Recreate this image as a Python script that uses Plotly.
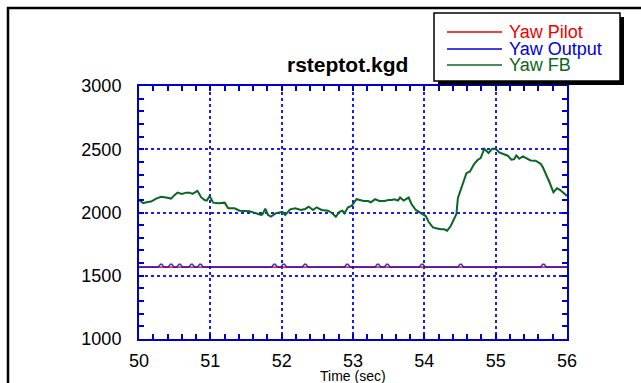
import plotly.graph_objects as go

# ---------------- data ----------------
time_fb = [50.00, 50.06, 50.12, 50.17, 50.24, 50.31, 50.38, 50.45, 50.50, 50.54,
           50.60, 50.66, 50.71, 50.75, 50.82, 50.87, 50.92, 50.95, 50.99, 51.04,
           51.11, 51.17, 51.20, 51.25, 51.34, 51.41, 51.55, 51.64, 51.71, 51.73,
           51.77, 51.81, 51.85, 51.92, 51.98, 52.01, 52.05, 52.12, 52.19, 52.27,
           52.33, 52.38, 52.44, 52.49, 52.56, 52.65, 52.70, 52.76, 52.81, 52.85,
           52.88, 52.93, 52.98, 53.05, 53.15, 53.21, 53.25, 53.31, 53.37, 53.44,
           53.50, 53.54, 53.58, 53.63, 53.66, 53.71, 53.78, 53.82, 53.88, 53.94,
           54.02, 54.06, 54.12, 54.18, 54.23, 54.28, 54.32, 54.37, 54.41, 54.45,
           54.47, 54.51, 54.55, 54.59, 54.64, 54.70, 54.75, 54.79, 54.84, 54.90,
           54.95, 55.00, 55.05, 55.11, 55.17, 55.22, 55.26, 55.29, 55.33, 55.38,
           55.44, 55.49, 55.56, 55.63, 55.66, 55.70, 55.75, 55.81, 55.86, 55.90,
           55.95, 56.00]
yaw_fb = [2099, 2073, 2083, 2087, 2110, 2125, 2118, 2110, 2139, 2157,
          2147, 2157, 2157, 2147, 2171, 2121, 2099, 2094, 2131, 2078,
          2073, 2078, 2078, 2033, 2033, 2014, 2010, 1994, 1980, 1985,
          2030, 1980, 1967, 1994, 1998, 2006, 1980, 2025, 2033, 2020,
          2028, 2046, 2020, 2041, 2020, 2014, 1998, 1967, 2006, 2014,
          1994, 2041, 2052, 2105, 2091, 2091, 2081, 2105, 2091, 2091,
          2099, 2099, 2105, 2094, 2118, 2094, 2118, 2067, 2020, 1998,
          1972, 1927, 1882, 1874, 1867, 1867, 1856, 1893, 1940, 1988,
          2113, 2179, 2245, 2311, 2324, 2385, 2417, 2430, 2504, 2470,
          2504, 2504, 2475, 2462, 2449, 2417, 2422, 2451, 2425, 2443,
          2422, 2411, 2409, 2385, 2359, 2311, 2245, 2160, 2192, 2179,
          2152, 2131]

time_pilot = [50.0, 51.0, 52.0, 53.0, 54.0, 55.0, 56.0]
yaw_pilot = [1568, 1568, 1568, 1568, 1568, 1568, 1568]

time_out = [50.00,
            50.27, 50.29, 50.30, 50.32, 50.33, 50.35,
            50.41, 50.43, 50.44, 50.46, 50.47, 50.49,
            50.53, 50.55, 50.56, 50.58, 50.59, 50.61,
            50.70, 50.72, 50.73, 50.75, 50.76, 50.78,
            50.82, 50.84, 50.85, 50.87, 50.88, 50.90,
            51.86, 51.88, 51.89, 51.91, 51.92, 51.94,
            51.99, 52.01, 52.02, 52.04, 52.05, 52.07,
            52.29, 52.31, 52.32, 52.34, 52.35, 52.37,
            52.88, 52.90, 52.91, 52.93, 52.94, 52.96,
            53.31, 53.33, 53.34, 53.36, 53.37, 53.39,
            53.44, 53.46, 53.47, 53.49, 53.50, 53.52,
            53.93, 53.95, 53.96, 53.98, 53.99, 54.01,
            54.47, 54.49, 54.50, 54.52, 54.53, 54.55,
            55.63, 55.65, 55.66, 55.68, 55.69, 55.71,
            56.00]
yaw_out = [1570,
           1570, 1583, 1590, 1590, 1583, 1570,
           1570, 1583, 1590, 1590, 1583, 1570,
           1570, 1583, 1590, 1590, 1583, 1570,
           1570, 1583, 1590, 1590, 1583, 1570,
           1570, 1583, 1590, 1590, 1583, 1570,
           1570, 1583, 1590, 1590, 1583, 1570,
           1570, 1583, 1590, 1590, 1583, 1570,
           1570, 1583, 1590, 1590, 1583, 1570,
           1570, 1583, 1590, 1590, 1583, 1570,
           1570, 1583, 1590, 1590, 1583, 1570,
           1570, 1583, 1590, 1590, 1583, 1570,
           1570, 1583, 1590, 1590, 1583, 1570,
           1570, 1583, 1590, 1590, 1583, 1570,
           1570, 1583, 1590, 1590, 1583, 1570,
           1570]

series_names = ["Yaw Pilot", "Yaw Output", "Yaw FB"]
series_colors = ["#ee0000", "#0000dd", "#0b6623"]
title_text = "rsteptot.kgd"
xlabel_text = "Time (sec)"

# ---------------- layout helpers ----------------
W, H = 641, 383
L, R, T, B = 139, 567, 86, 339


def px(x):
    return (x - L) / (R - L)


def py(y):
    return (B - y) / (B - T)


FONT = "Liberation Sans, Arial, sans-serif"
AXIS_BLUE = "#0000cc"
GRID_BLUE = "#1a1aff"

fig = go.Figure()
fig.add_trace(go.Scatter(x=time_pilot, y=yaw_pilot, mode="lines",
                         line=dict(color=series_colors[0], width=1.8),
                         opacity=0.8, name=series_names[0], showlegend=False))
fig.add_trace(go.Scatter(x=time_out, y=yaw_out, mode="lines",
                         line=dict(color=series_colors[1], width=1.5),
                         opacity=0.8, name=series_names[1], showlegend=False))
fig.add_trace(go.Scatter(x=time_fb, y=yaw_fb, mode="lines",
                         line=dict(color=series_colors[2], width=2),
                         name=series_names[2], showlegend=False))

axis_common = dict(
    showline=True, linecolor=AXIS_BLUE, linewidth=2, mirror="ticks",
    ticks="inside", ticklen=5, tickwidth=1.5, tickcolor=AXIS_BLUE,
    showgrid=True, gridcolor=GRID_BLUE, gridwidth=1.5, griddash="dot",
    zeroline=False,
    tickfont=dict(family=FONT, size=18, color="black"),
)

fig.update_xaxes(range=[50, 56], tickmode="array",
                 tickvals=[50, 51, 52, 53, 54, 55, 56],
                 ticktext=["50", "51", "52", "53", "54", "55", "56"],
                 minor=dict(dtick=0.2, ticks="inside", ticklen=5, tickwidth=1.5,
                            tickcolor=AXIS_BLUE, showgrid=False),
                 ticklabelstandoff=4,
                 **axis_common)
fig.update_yaxes(range=[1000, 3000], tickmode="array",
                 tickvals=[1000, 1500, 2000, 2500, 3000],
                 ticktext=["1000", "1500", "2000", "2500", "3000"],
                 minor=dict(dtick=100, ticks="inside", ticklen=5, tickwidth=1.5,
                            tickcolor=AXIS_BLUE, showgrid=False),
                 ticklabelstandoff=12,
                 **axis_common)

shapes = []
# outer frame
shapes.append(dict(type="rect", xref="paper", yref="paper",
                   x0=px(8), x1=px(700), y0=py(8), y1=py(460),
                   line=dict(color="black", width=2.5), fillcolor="rgba(0,0,0,0)", layer="above"))
# legend shadow
shapes.append(dict(type="rect", xref="paper", yref="paper",
                   x0=px(438), x1=px(624), y0=py(17), y1=py(85),
                   line=dict(width=0), fillcolor="black", layer="above"))
# legend box
shapes.append(dict(type="rect", xref="paper", yref="paper",
                   x0=px(434), x1=px(620), y0=py(13), y1=py(81),
                   line=dict(color="black", width=1.5), fillcolor="white", layer="above"))

annotations = []
legend_y = [32, 49, 65]
for name, col, ly in zip(series_names, series_colors, legend_y):
    shapes.append(dict(type="line", xref="paper", yref="paper",
                       x0=px(447), x1=px(502), y0=py(ly), y1=py(ly),
                       line=dict(color=col, width=1.5), layer="above"))
    annotations.append(dict(xref="paper", yref="paper", x=px(507), y=py(ly),
                            xanchor="left", yanchor="middle", showarrow=False,
                            text=name, font=dict(family=FONT, size=18, color=col)))

annotations.append(dict(xref="paper", yref="paper", x=px(347.5), y=py(64),
                        xanchor="center", yanchor="middle", showarrow=False,
                        text="<b>" + title_text + "</b>",
                        font=dict(family=FONT, size=21, color="black")))
annotations.append(dict(xref="paper", yref="paper", x=px(353), y=py(376),
                        xanchor="center", yanchor="middle", showarrow=False,
                        text=xlabel_text,
                        font=dict(family=FONT, size=14, color="black")))

fig.update_layout(
    width=W, height=H,
    margin=dict(l=L, r=W - R, t=T, b=H - B, autoexpand=False),
    paper_bgcolor="white", plot_bgcolor="white",
    showlegend=False,
    shapes=shapes, annotations=annotations,
)

fig.write_html("out.html")
